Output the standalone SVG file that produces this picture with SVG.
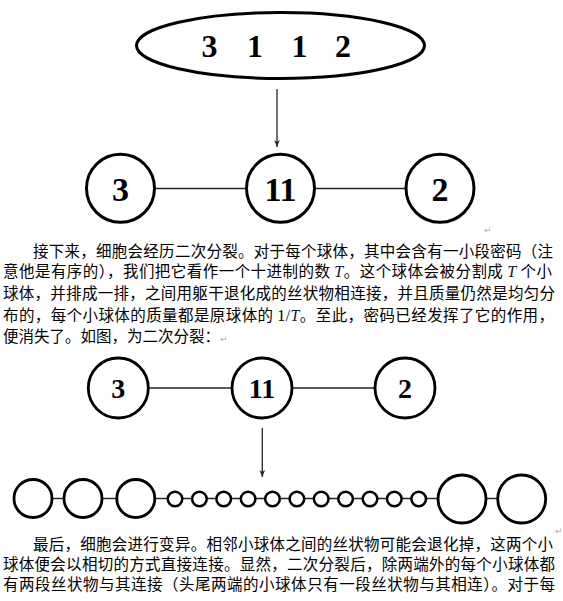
<svg xmlns="http://www.w3.org/2000/svg" width="563" height="601" viewBox="0 0 563 601">
<style>
.n{fill:#fff;stroke:#000;stroke-width:3}
.n2{fill:#fff;stroke:#000;stroke-width:2.8}
.s{fill:#fff;stroke:#000;stroke-width:2.5}
.num{font-family:"Liberation Serif",serif;font-weight:bold;fill:#000;text-anchor:middle}
.ln{stroke:#222;stroke-width:1.4;fill:none}
.ar{stroke:#222;stroke-width:1.3;fill:none;marker-end:url(#ah)}
.p{font-family:"Noto Sans CJK SC","Noto Sans",sans-serif;font-size:15.5px;fill:#000}
.it{font-family:"Liberation Serif",serif;font-style:italic;font-size:16px;fill:#14143c}
.pm{font-family:"DejaVu Sans",sans-serif;font-size:9px;fill:#aaa}
</style>
<defs>
<marker id="ah" viewBox="0 0 10 10" refX="10" refY="5" markerWidth="7" markerHeight="7" markerUnits="userSpaceOnUse" orient="auto">
<path d="M0,1 L10,5 L0,9 L3,5 Z" fill="#222"/>
</marker>
</defs>

<g id="connectors">
<line class="ar" x1="277" y1="89" x2="277" y2="147"/>
<line class="ln" x1="154" y1="188.5" x2="247" y2="188.5"/>
<line class="ln" x1="314" y1="188.5" x2="406" y2="188.5"/>
<line class="ln" x1="149" y1="388" x2="232" y2="388"/>
<line class="ln" x1="292" y1="388" x2="375" y2="388"/>
<line class="ar" x1="262.3" y1="428" x2="262.3" y2="477"/>
<line class="ln" x1="52" y1="498.5" x2="64" y2="498.5"/>
<line class="ln" x1="102" y1="498.5" x2="117" y2="498.5"/>
<line class="ln" x1="155" y1="498.5" x2="168" y2="498.5"/>
<line class="ln" x1="175" y1="498.5" x2="419" y2="498.5"/>
<line class="ln" x1="426" y1="498.5" x2="438" y2="498.5"/>
<line class="ln" x1="486" y1="498.5" x2="497" y2="498.5"/>
</g>

<g id="code">
<ellipse class="n" cx="280.5" cy="45.5" rx="144" ry="33"/>
<text class="num" font-size="32" y="56.5"><tspan x="209.5">3</tspan><tspan x="255">1</tspan><tspan x="299.5">1</tspan><tspan x="343">2</tspan></text>
</g>

<g id="r1-3"><circle class="n" cx="120.5" cy="188.3" r="34"/><text class="num" font-size="34" x="120.5" y="200.5">3</text></g>
<g id="r1-11"><circle class="n" cx="280.5" cy="188.3" r="34"/><text class="num" font-size="34" x="280.5" y="200.5">11</text></g>
<g id="r1-2"><circle class="n" cx="440" cy="188.3" r="34"/><text class="num" font-size="34" x="440" y="200.5">2</text></g>

<g id="r2-3"><circle class="n2" cx="118.3" cy="388" r="30"/><text class="num" font-size="28" x="118.3" y="397.5">3</text></g>
<g id="r2-11"><circle class="n2" cx="262" cy="388" r="30"/><text class="num" font-size="28" x="262" y="397.5">11</text></g>
<g id="r2-2"><circle class="n2" cx="405" cy="388" r="30"/><text class="num" font-size="28" x="405" y="397.5">2</text></g>

<g id="r3-b1"><circle class="n2" cx="33" cy="498.5" r="19"/></g>
<g id="r3-b2"><circle class="n2" cx="83" cy="498.5" r="19"/></g>
<g id="r3-b3"><circle class="n2" cx="135.8" cy="498.5" r="19"/></g>
<g id="r3-s1"><circle class="s" cx="175" cy="499" r="7.3"/></g>
<g id="r3-s2"><circle class="s" cx="199.4" cy="499" r="7.3"/></g>
<g id="r3-s3"><circle class="s" cx="223.7" cy="499" r="7.3"/></g>
<g id="r3-s4"><circle class="s" cx="248.1" cy="499" r="7.3"/></g>
<g id="r3-s5"><circle class="s" cx="272.5" cy="499" r="7.3"/></g>
<g id="r3-s6"><circle class="s" cx="296.9" cy="499" r="7.3"/></g>
<g id="r3-s7"><circle class="s" cx="321.2" cy="499" r="7.3"/></g>
<g id="r3-s8"><circle class="s" cx="345.6" cy="499" r="7.3"/></g>
<g id="r3-s9"><circle class="s" cx="370" cy="499" r="7.3"/></g>
<g id="r3-s10"><circle class="s" cx="394.3" cy="499" r="7.3"/></g>
<g id="r3-s11"><circle class="s" cx="418.7" cy="499" r="7.3"/></g>
<g id="r3-b4"><circle class="n2" cx="462" cy="499" r="24"/></g>
<g id="r3-b5"><circle class="n2" cx="521.7" cy="499" r="24"/></g>

<g id="text">
<text class="pm" x="484" y="233">↵</text>
<text class="p" x="33" y="257" textLength="520" lengthAdjust="spacing">接下来，细胞会经历二次分裂。对于每个球体，其中会含有一小段密码（注</text>
<text class="p" x="3" y="277" textLength="549" lengthAdjust="spacing">意他是有序的），我们把它看作一个十进制的数 <tspan class="it">T</tspan>。这个球体会被分割成 <tspan class="it">T</tspan> 个小</text>
<text class="p" x="3" y="298.5" textLength="552" lengthAdjust="spacing">球体，并排成一排，之间用躯干退化成的丝状物相连接，并且质量仍然是均匀分</text>
<text class="p" x="3" y="320.5" textLength="551" lengthAdjust="spacing">布的，每个小球体的质量都是原球体的 <tspan font-family="Liberation Serif" font-size="16">1/</tspan><tspan class="it">T</tspan>。至此，密码已经发挥了它的作用，</text>
<text class="p" x="3" y="341.5">便消失了。如图，为二次分裂：<tspan class="pm">↵</tspan></text>
<text class="pm" x="555" y="534">↵</text>
<text class="p" x="33" y="550" textLength="520" lengthAdjust="spacing">最后，细胞会进行变异。相邻小球体之间的丝状物可能会退化掉，这两个小</text>
<text class="p" x="3" y="570" textLength="552" lengthAdjust="spacing">球体便会以相切的方式直接连接。显然，二次分裂后，除两端外的每个小球体都</text>
<text class="p" x="3" y="590" textLength="552" lengthAdjust="spacing">有两段丝状物与其连接（头尾两端的小球体只有一段丝状物与其相连）。对于每</text>
</g>
</svg>
